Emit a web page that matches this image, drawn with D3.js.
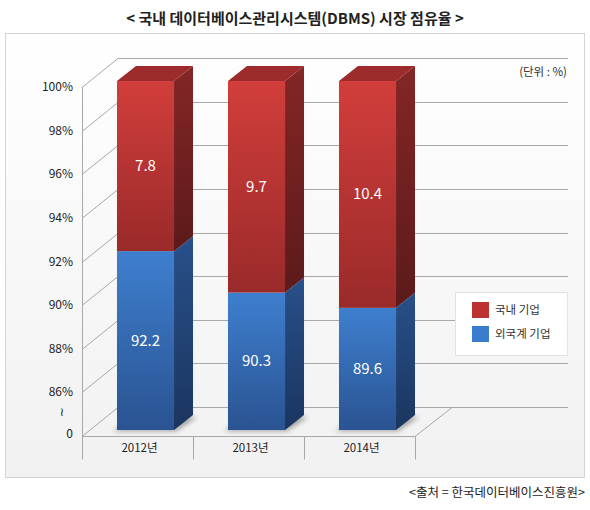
<!DOCTYPE html>
<html><head><meta charset="utf-8">
<script src="https://cdn.jsdelivr.net/npm/d3@7"></script>
<style>
html,body{margin:0;padding:0;background:#fff;}
svg{display:block;font-family:"Noto Sans CJK KR","Noto Sans",sans-serif;}
</style></head>
<body>
<svg id="c" width="590" height="510"></svg>
<script>
const categories = ["2012년", "2013년", "2014년"];
const foreignShare = [92.2, 90.3, 89.6];
const domesticShare = [7.8, 9.7, 10.4];
const seriesNames = ["국내 기업", "외국계 기업"];
const yTicks = [84, 86, 88, 90, 92, 94, 96, 98, 100];
const yTickLabels = ["0", "86%", "88%", "90%", "92%", "94%", "96%", "98%", "100%"];
const titleText = "< 국내 데이터베이스관리시스템(DBMS) 시장 점유율 >";
const unitText = "(단위 : %)";
const sourceText = "<출처 = 한국데이터베이스진흥원>";

const svg = d3.select("#c");
const defs = svg.append("defs");
function grad(id, c0, c1){
  const g = defs.append("linearGradient").attr("id", id).attr("x1",0).attr("y1",0).attr("x2",0).attr("y2",1);
  g.append("stop").attr("offset","0%").attr("stop-color",c0);
  g.append("stop").attr("offset","100%").attr("stop-color",c1);
}
grad("bg", "#ffffff", "#f1f1f1");
grad("redF", "#d13e3b", "#9a2a2a");
grad("redS", "#842626", "#5c1a1a");
grad("bluF", "#3e7fcf", "#2a5391");
grad("bluS", "#28508a", "#1b355f");
defs.append("filter").attr("id","blur").attr("x","-20%").attr("y","-50%").attr("width","140%").attr("height","200%")
  .append("feGaussianBlur").attr("stdDeviation", 2.5);

// panel
svg.append("rect").attr("x",5.5).attr("y",33.5).attr("width",579).attr("height",444)
  .attr("fill","url(#bg)").attr("stroke","#d4d4d4");

// title
svg.append("text").attr("x",295).attr("y",24).attr("text-anchor","middle")
  .attr("font-size",15).attr("font-weight",700).attr("fill","#222").text(titleText);

// geometry
const y = d3.scaleLinear().domain([84, 100]).range([436, 87]);
const x = d3.scaleBand().domain(categories).range([82, 415]).paddingInner(0.486).paddingOuter(0.243);
const wall = {dx: 36, dy: -29};
const backRight = 568;
const fr = {dx: 8, dy: -6};
const bk = {dx: 27, dy: -21};

const grid = svg.append("g").attr("stroke","#a8a8a8").attr("stroke-width",1).attr("fill","none");
yTicks.forEach(v => {
  const yy = Math.round(y(v)) + 0.5;
  grid.append("line").attr("x1",82).attr("y1",yy).attr("x2",82+wall.dx).attr("y2",yy+wall.dy);
  grid.append("line").attr("x1",82+wall.dx).attr("y1",yy+wall.dy).attr("x2",backRight).attr("y2",yy+wall.dy);
});
// floor
const y0 = Math.round(y(84)) + 0.5;
grid.append("line").attr("x1",415).attr("y1",y0).attr("x2",415+wall.dx+1).attr("y2",y0+wall.dy);
// axes front
grid.append("line").attr("x1",82.5).attr("y1",y(100)).attr("x2",82.5).attr("y2",y0);
grid.append("line").attr("x1",82).attr("y1",y0).attr("x2",415).attr("y2",y0);
const seps = [82, ...categories.map(c => x(c) + x.bandwidth() + x.step()*x.paddingInner()/2)];
seps.forEach((sx,i) => {
  const xx = Math.round(i===0 ? 82 : (i===categories.length ? 415 : sx)) + 0.5;
  grid.append("line").attr("x1",xx).attr("y1",y0).attr("x2",xx).attr("y2",y0+23);
});

// y labels
svg.append("g").selectAll("text").data(yTicks).join("text")
  .attr("x",73).attr("y",d => y(d) + 4 - (d===84 ? 2 : 0)).attr("text-anchor","end")
  .attr("font-size",12).attr("fill","#222")
  .text((d,i) => yTickLabels[i]);
svg.append("text").attr("x",62).attr("y",(y(84)+y(86))/2 + 2).attr("text-anchor","middle")
  .attr("font-size",12).attr("fill","#222").attr("font-family","DejaVu Sans").text("≀");

// category labels
svg.append("g").selectAll("text").data(categories).join("text")
  .attr("x",d => x(d) + x.bandwidth()/2 + 2).attr("y",y0 + 15).attr("text-anchor","middle")
  .attr("font-size",11.5).attr("fill","#222").text(d => d);

// bars
const bars = svg.append("g");
categories.forEach((c,i) => {
  const bx = x(c), bw = x.bandwidth();
  const sy = y(84);
  bars.append("polygon").attr("filter","url(#blur)").attr("fill","#000").attr("opacity",0.35)
    .attr("points",[[bx+fr.dx-4, sy+fr.dy+1],[bx+bw+fr.dx+2, sy+fr.dy+1],[bx+bw+bk.dx+4, sy+bk.dy+2],[bx+bk.dx, sy+bk.dy+2]].map(p=>p.join(",")).join(" "));
  const segs = [
    {v0: 84, v1: foreignShare[i], f: "url(#bluF)", s: "url(#bluS)", val: foreignShare[i]},
    {v0: foreignShare[i], v1: foreignShare[i] + domesticShare[i], f: "url(#redF)", s: "url(#redS)", val: domesticShare[i]}
  ];
  segs.forEach((sg, k) => {
    const yt = y(Math.min(sg.v1,100)), yb = y(sg.v0);
    bars.append("polygon").attr("fill", sg.s)
      .attr("points",[[bx+bw+fr.dx, yt+fr.dy],[bx+bw+bk.dx, yt+bk.dy],[bx+bw+bk.dx, yb+bk.dy],[bx+bw+fr.dx, yb+fr.dy]].map(p=>p.join(",")).join(" "));
    bars.append("rect").attr("x",bx+fr.dx).attr("y",yt+fr.dy).attr("width",bw).attr("height",yb-yt).attr("fill",sg.f);
    if (k === segs.length-1) {
      bars.append("polygon").attr("fill","#9d2b2b")
        .attr("points",[[bx+fr.dx, yt+fr.dy],[bx+bw+fr.dx, yt+fr.dy],[bx+bw+bk.dx, yt+bk.dy],[bx+bk.dx, yt+bk.dy]].map(p=>p.join(",")).join(" "));
    }
    bars.append("text").attr("x",bx+fr.dx+bw/2).attr("y",(yt+yb)/2+fr.dy+5).attr("text-anchor","middle")
      .attr("font-size",15).attr("fill","#fff").text(sg.val.toFixed(1));
  });
});

// unit text
svg.append("text").attr("x",567).attr("y",76).attr("text-anchor","end").attr("font-size",11.5).attr("fill","#333").text(unitText);

// legend
const lg = svg.append("g");
lg.append("rect").attr("x",455.5).attr("y",292.5).attr("width",112).attr("height",63).attr("fill","#fff").attr("stroke","#e2e2e2");
const legendColors = ["#bd3231", "#3a7dcd"];
seriesNames.forEach((n,i) => {
  lg.append("rect").attr("x",472).attr("y",302+i*24).attr("width",17).attr("height",16).attr("fill",legendColors[i]);
  lg.append("text").attr("x",495).attr("y",314+i*24).attr("font-size",11.5).attr("fill","#333").text(n);
});

// source
svg.append("text").attr("x",585).attr("y",497).attr("text-anchor","end").attr("font-size",12.5).attr("fill","#222").text(sourceText);
</script>
</body></html>
